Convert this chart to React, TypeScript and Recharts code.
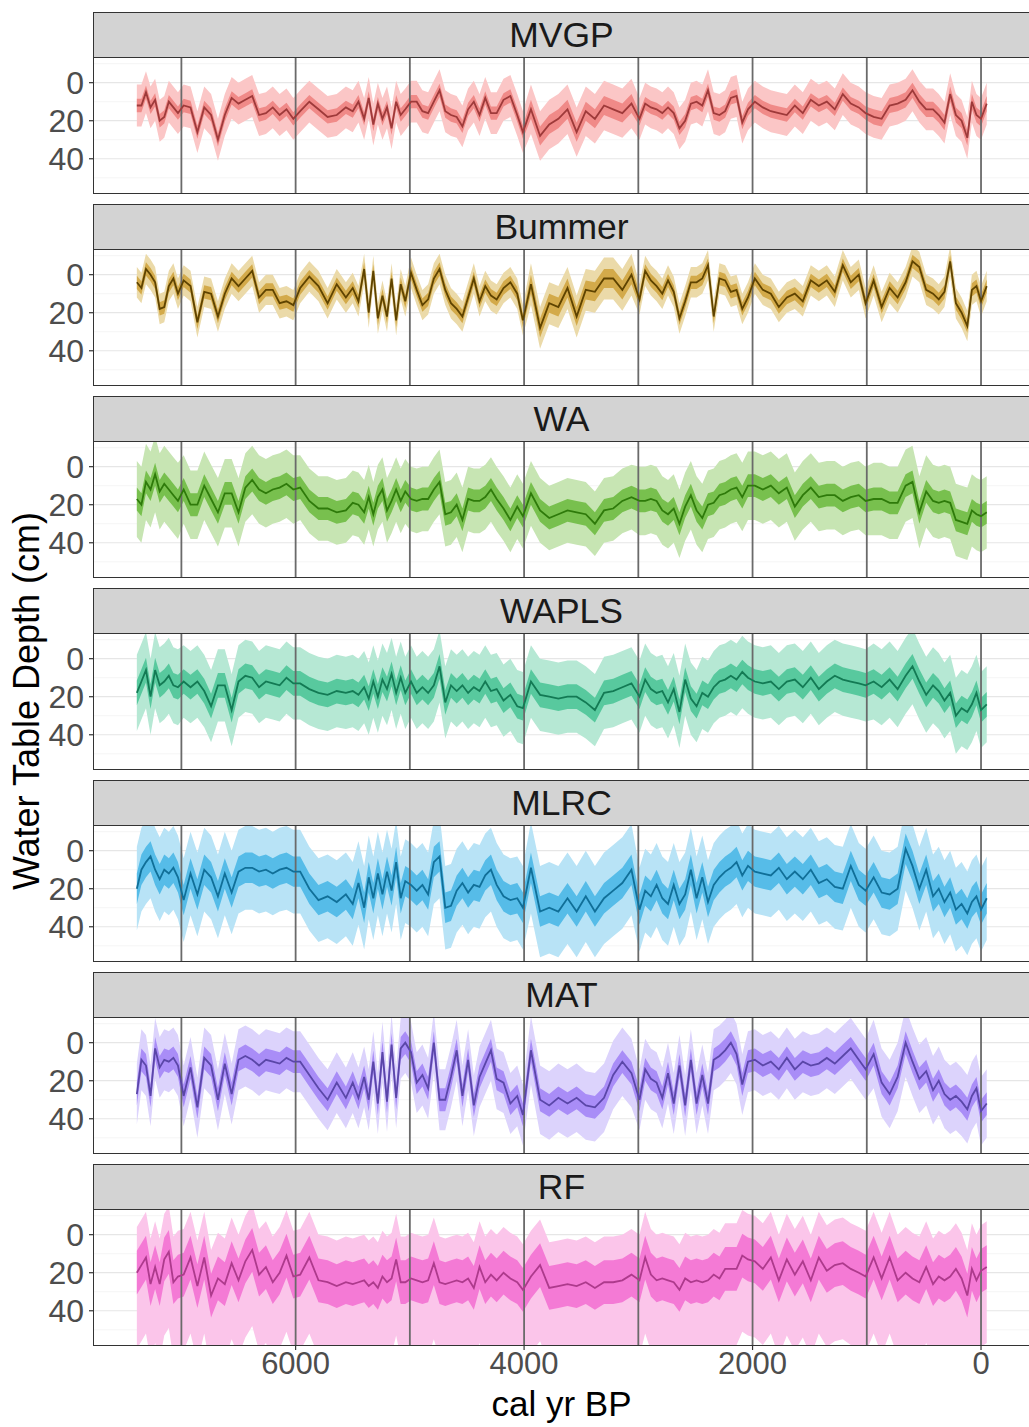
import React from 'react';
import { ComposedChart, Area, Line, XAxis, YAxis, CartesianGrid, ReferenceLine } from 'recharts';

// ages (cal yr BP) shared by all reconstructions
const ages = [7390,7350,7310,7270,7230,7190,7150,7110,7070,7030,
6980,6920,6860,6800,6740,6680,6620,6560,6500,6440,6380,6320,6260,6200,6140,6080,6020,
5960,5880,5800,5720,5640,5560,5500,5450,5400,5360,5320,5280,5240,5200,5160,5120,5080,5040,
4990,4940,4890,4840,4790,4740,4690,4640,4590,4540,4490,4440,4390,4340,4290,4240,4180,4120,4060,4010,
3940,3860,3780,3700,3620,3540,3460,3380,3300,3220,3140,3060,
2990,2940,2890,2840,2790,2740,2690,2640,2590,2540,2490,2440,2390,2340,2290,2240,2190,2140,2090,2040,
1980,1910,1840,1770,1700,1630,1560,1490,1420,1350,1280,1210,1140,1070,1010,
940,870,800,730,660,600,540,480,420,370,320,270,220,170,120,80,40,0,-50];

const mvgpMean = [12,12,5,13,9,20,18,10,13,16,
12,13,26,13,17,30,17,8,11,9,7,17,16,13,17,14,19,
15,10,14,18,17,13,15,10,19,8,22,11,19,13,24,10,17,14,
10,10,15,16,10,4,15,17,18,23,14,10,17,8,16,16,9,7,17,26,
14,28,22,19,14,26,15,19,12,14,16,11,
19,11,13,14,16,13,16,24,20,11,10,12,4,16,17,15,8,7,21,14,
10,13,15,16,17,12,16,9,12,10,14,6,11,13,16,
18,19,12,11,9,4,10,14,14,17,21,6,17,20,29,10,17,19,11];

const bummerMean = [4,7,-3,0,4,18,17,6,2,10,
3,6,25,9,10,22,10,2,6,2,-2,12,8,8,15,14,16,
7,1,6,15,5,12,7,14,-3,20,-2,23,11,22,2,24,5,14,
-1,8,16,13,2,-3,8,15,18,22,12,2,14,6,11,13,7,4,10,24,
5,28,15,17,7,22,8,9,2,2,8,0,
13,-2,3,6,10,3,9,23,14,4,4,2,-5,22,2,3,9,8,18,12,
2,8,10,17,12,10,14,3,6,3,9,-5,4,0,15,
3,17,7,12,4,-7,-4,8,10,13,9,-7,15,20,27,8,6,14,6];

const waMean = [17,20,8,12,4,13,9,12,15,18,
12,20,20,10,17,24,14,14,24,11,7,12,14,12,11,9,12,
11,18,22,22,24,23,19,20,24,16,25,16,12,23,18,12,18,13,
17,18,17,17,12,8,25,24,20,28,17,18,18,16,12,17,22,28,21,26,
14,23,27,25,23,24,25,30,23,22,18,16,
18,18,17,18,23,25,22,30,21,15,23,27,20,19,15,14,12,11,16,10,
10,12,10,14,11,21,15,11,16,15,15,18,16,15,18,
17,17,19,19,10,8,24,13,18,19,18,19,28,29,30,23,25,26,24];

const waplsMean = [18,12,6,20,6,14,12,9,14,15,
12,15,12,17,25,14,14,27,12,9,10,15,12,13,14,10,13,
13,16,18,19,17,18,17,19,15,21,12,20,11,16,8,18,10,18,
12,18,15,18,14,4,23,14,17,14,18,15,17,12,17,16,22,19,25,26,
12,19,20,21,20,20,23,27,18,17,15,13,
20,11,16,18,17,23,16,28,11,21,25,18,20,15,12,11,9,11,7,10,
12,13,12,16,12,11,15,10,16,12,9,11,12,13,14,
12,15,11,16,9,4,12,19,14,17,22,18,30,26,28,24,18,27,24];

const mlrcMean = [20,10,6,3,10,15,10,12,9,14,
26,12,23,10,14,24,12,22,11,9,9,11,10,12,10,9,11,
11,20,26,24,27,23,28,17,30,14,25,12,23,11,21,6,25,16,
18,21,18,23,6,3,30,29,21,17,22,18,19,13,10,18,24,26,25,30,
9,32,30,32,25,32,24,32,25,21,17,10,
31,21,24,18,25,28,18,28,23,10,25,14,27,18,14,11,9,6,13,8,
11,12,13,9,15,11,15,10,17,15,19,20,8,18,21,
14,22,23,20,-1,8,20,10,24,20,27,22,31,28,33,27,24,31,25];

const matMean = [27,9,12,28,3,13,9,10,8,12,
28,13,34,8,12,30,11,27,9,7,9,12,9,10,11,8,10,
10,17,24,30,21,29,21,29,18,30,10,32,5,31,1,29,3,0,
5,21,17,24,0,30,30,18,4,28,9,33,18,11,4,19,21,32,28,38,
4,30,33,29,32,29,33,34,29,17,10,16,
30,14,19,21,29,16,32,12,33,9,32,17,32,9,7,4,0,6,22,10,
9,12,10,14,8,14,10,12,11,8,11,7,3,9,14,
6,21,27,18,0,10,19,15,25,20,27,30,28,31,35,28,24,36,32];

const rfMean = [20,16,12,26,17,26,13,9,25,22,
21,12,27,12,32,23,26,15,24,14,8,21,17,25,20,11,22,
21,12,24,25,27,25,26,25,24,27,25,28,22,25,23,13,25,25,
23,24,25,24,15,25,26,25,24,25,23,28,17,25,21,24,20,23,25,29,
22,16,28,27,26,27,25,28,25,25,24,21,
24,12,21,24,23,24,25,29,23,25,24,25,24,21,23,18,18,18,11,13,
14,18,12,24,13,21,14,24,12,19,16,15,18,20,22,
12,23,12,24,20,23,25,17,26,22,24,22,18,23,32,18,24,19,17];

// ribbon half-widths per millennium block (7400-7000, 7000-6000, ..., 1000-0)
const mvgpInner = [3.5,3.5,3.5,3.5,5,3.5,3.5,4];
const mvgpOuter = [11,11,11,11,13,11,11,11];
const bummerInner = [3.5,3.5,3.5,3.5,5,3.5,3.5,3.5];
const bummerOuter = [8,8,8,8,11,8,8,8];
const waInner = [6,6,6,6,6,6,6,6];
const waOuter = [20,18,17,17,17,18,18,19];
const waplsInner = [6.5,6.5,6.5,6.5,6.5,6.5,6.5,6.5];
const waplsOuter = [20,19,19,19,19,19,19,20];
const mlrcInner = [8,8,8,8,8,8,8,8];
const mlrcOuter = [22,22,22,22,24,22,22,22];
const matInner = [6,6,6,6,6,6,6,6];
const matOuter = [16,16,16,16,18,16,16,18];
const rfInner = [11.5,11.5,11.5,11.5,11.5,11.5,11.5,11.5];
const rfOuterUp = [24,24,24,24,24,24,24,24];
const rfOuterDown = [40,40,40,40,40,40,40,40];

const blockEdges = [7000, 6000, 5000, 4000, 3000, 2000, 1000];
const vLines = [7000, 6000, 5000, 4000, 3000, 2000, 1000, 0];
const xTicks = [6000, 4000, 2000, 0];
const yTicks = [0, 20, 40];
const yMinor = [-10, 10, 30, 50];

const panels = [
  { name: 'MVGP', mean: mvgpMean, inner: mvgpInner, up: mvgpOuter, down: mvgpOuter, light: '#fbc6c6', mid: '#f08a88', line: '#9e3a3a' },
  { name: 'Bummer', mean: bummerMean, inner: bummerInner, up: bummerOuter, down: bummerOuter, light: '#ebdaa9', mid: '#d3aa4a', line: '#5e4300' },
  { name: 'WA', mean: waMean, inner: waInner, up: waOuter, down: waOuter, light: '#c7e5b3', mid: '#78c04e', line: '#2e7a0a' },
  { name: 'WAPLS', mean: waplsMean, inner: waplsInner, up: waplsOuter, down: waplsOuter, light: '#b6e8d4', mid: '#58c99e', line: '#137a54' },
  { name: 'MLRC', mean: mlrcMean, inner: mlrcInner, up: mlrcOuter, down: mlrcOuter, light: '#b8e3f6', mid: '#56bce8', line: '#106f98' },
  { name: 'MAT', mean: matMean, inner: matInner, up: matOuter, down: matOuter, light: '#dcd3fc', mid: '#a98df7', line: '#5a46a8' },
  { name: 'RF', mean: rfMean, inner: rfInner, up: rfOuterUp, down: rfOuterDown, light: '#fbc5ea', mid: '#f47ad5', line: '#ad3a8c' },
];

function blockOf(age: number) {
  let i = 0;
  while (i < blockEdges.length && age <= blockEdges[i]) i++;
  return i;
}

const FONT = '"Liberation Sans", Arial, sans-serif';
const STRIP_TOP0 = 12;
const STEP = 192;
const STRIP_H = 45;
const PANEL_H = 136;
const LEFT = 94;
const WIDTH = 1029;

function Panel({ p, idx }: { p: any; idx: number }) {
  const last = idx === panels.length - 1;
  const data = ages.map((a, i) => {
    const b = blockOf(a);
    const m = p.mean[i];
    return {
      age: a,
      mean: m,
      inner: [m - p.inner[b], m + p.inner[b]],
      outer: [m - p.up[b], m + p.down[b]],
    };
  });
  const top = STRIP_TOP0 + idx * STEP;
  return (
    <>
      <div style={{ position: 'absolute', left: LEFT - 1, top, width: WIDTH - LEFT + 2, height: STRIP_H + 1, background: '#d3d3d3', border: '1px solid #333', boxSizing: 'border-box', display: 'flex', alignItems: 'center', justifyContent: 'center', fontSize: 35.5, color: '#1a1a1a', fontFamily: FONT, lineHeight: '45px' }}>
        {p.name}
      </div>
      <div style={{ position: 'absolute', left: 0, top: top + STRIP_H }}>
        <ComposedChart width={WIDTH} height={PANEL_H + (last ? 40 : 0)} data={data} margin={{ top: 0, right: 0, bottom: 0, left: 0 }} style={{ fontFamily: FONT }}>
          <CartesianGrid vertical={false} horizontalValues={yMinor} stroke="#f0f0f0" strokeWidth={0.7} />
          <CartesianGrid vertical={false} horizontalValues={yTicks} stroke="#e6e6e6" strokeWidth={1.2} />
          <XAxis dataKey="age" type="number" domain={[-420, 7765]} reversed allowDataOverflow ticks={xTicks} interval={0} hide={!last} height={40} axisLine={false} tickSize={5} tickMargin={2} tickLine={{ stroke: '#333', strokeWidth: 1.2 }} tick={{ fontSize: 31, fill: '#4d4d4d', fontFamily: FONT }} />
          <YAxis type="number" domain={[-13.5, 58]} reversed allowDataOverflow ticks={yTicks} interval={0} width={LEFT} axisLine={false} tickSize={5} tickMargin={5} tickLine={{ stroke: '#333', strokeWidth: 1.2 }} tick={{ fontSize: 32, fill: '#4d4d4d', fontFamily: FONT }} />
          <Area dataKey="outer" type="linear" stroke="none" fill={p.light} fillOpacity={1} isAnimationActive={false} />
          <Area dataKey="inner" type="linear" stroke="none" fill={p.mid} fillOpacity={1} isAnimationActive={false} />
          {vLines.map((v) => (
            <ReferenceLine key={v} x={v} stroke="#6a6a6a" strokeWidth={1.8} />
          ))}
          <Line dataKey="mean" type="linear" stroke={p.line} strokeWidth={1.8} dot={false} isAnimationActive={false} />
        </ComposedChart>
      </div>
      <div style={{ position: 'absolute', left: LEFT - 1, top: top + STRIP_H, width: WIDTH - LEFT + 2, height: PANEL_H + 1, border: '1px solid #333', boxSizing: 'border-box', pointerEvents: 'none' }} />
    </>
  );
}

export default function App() {
  return (
    <div style={{ position: 'absolute', left: 0, top: 0, width: WIDTH, height: 1427, overflow: 'hidden', background: '#fff', fontFamily: FONT }}>
      {panels.map((p, i) => (
        <Panel key={p.name} p={p} idx={i} />
      ))}
      <div style={{ position: 'absolute', left: LEFT, width: WIDTH - LEFT, top: 1389, textAlign: 'center', fontSize: 35, lineHeight: '30px', color: '#000', fontFamily: FONT }}>
        cal yr BP
      </div>
      <div style={{ position: 'absolute', left: 27, top: 701, width: 600, height: 40, marginLeft: -300, marginTop: -20, transform: 'rotate(-90deg)', textAlign: 'center', fontSize: 36, lineHeight: '40px', color: '#000', fontFamily: FONT, whiteSpace: 'nowrap' }}>
        Water Table Depth (cm)
      </div>
    </div>
  );
}
